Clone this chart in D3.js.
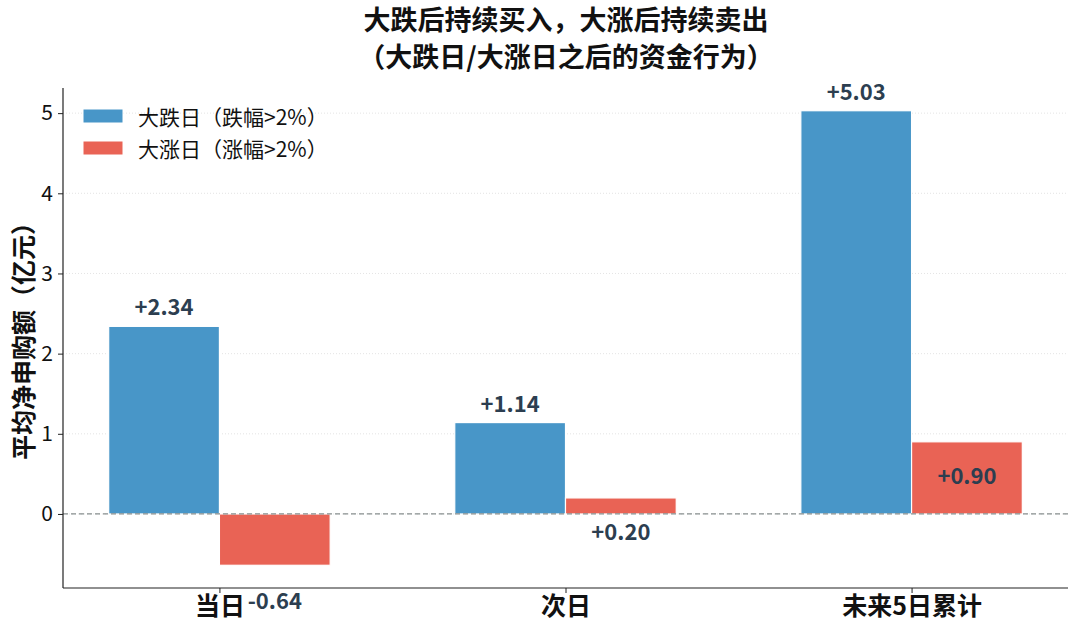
<!DOCTYPE html>
<html><head><meta charset="utf-8">
<script src="https://cdn.jsdelivr.net/npm/d3@7"></script>
<style>
body{margin:0;background:#fff;}
text{font-family:"Noto Sans CJK SC","Noto Sans",sans-serif;}
</style></head>
<body><svg id="chart" width="1080" height="635"></svg>
<script>
const categories = ["当日", "次日", "未来5日累计"];
const dropValues = [2.34, 1.14, 5.03];
const riseValues = [-0.64, 0.20, 0.90];
const seriesNames = ["大跌日（跌幅>2%）", "大涨日（涨幅>2%）"];
const yTicks = [0, 1, 2, 3, 4, 5];
const titleLines = ["大跌后持续买入，大涨后持续卖出", "（大跌日/大涨日之后的资金行为）"];
const yLabel = "平均净申购额（亿元）";

const colors = ["#4896c8", "#e96355"];
const labelColor = "#2c3e50";

const svg = d3.select("#chart");
const m = {left: 63, right: 1068, top: 88, bottom: 588};

const x = d3.scaleLinear().domain([-0.452, 2.452]).range([m.left, m.right]);
const y = d3.scaleLinear().domain([-0.9235, 5.3135]).range([m.bottom, m.top]);
const w = 0.32;

// grid
svg.append("g").selectAll("line").data(yTicks).join("line")
  .attr("x1", m.left).attr("x2", m.right)
  .attr("y1", d => y(d)).attr("y2", d => y(d))
  .attr("stroke", "#dddddd").attr("stroke-width", 0.8).attr("stroke-dasharray", "1,2");

const series = [dropValues, riseValues];
series.forEach((vals, si) => {
  svg.append("g").selectAll("rect").data(vals).join("rect")
    .attr("x", (d, i) => x(si === 0 ? i - w : i))
    .attr("width", x(w) - x(0))
    .attr("y", d => y(Math.max(0, d)))
    .attr("height", d => Math.abs(y(d) - y(0)))
    .attr("fill", colors[si])
    .attr("stroke", "#ffffff").attr("stroke-width", 1.2);
});

// zero line
svg.append("line").attr("x1", m.left).attr("x2", m.right)
  .attr("y1", y(0)).attr("y2", y(0))
  .attr("stroke", "#888f8f").attr("stroke-width", 1.3).attr("stroke-dasharray", "5,3");

// value labels
const fmt = d => (d >= 0 ? "+" : "") + d.toFixed(2);
svg.append("g").selectAll("text").data(dropValues).join("text")
  .attr("x", (d, i) => x(i - w / 2))
  .attr("y", d => y(d) - 21)
  .attr("text-anchor", "middle").attr("dominant-baseline", "central")
  .attr("font-size", 22).attr("font-weight", "bold").attr("fill", labelColor)
  .text(fmt);
svg.append("g").selectAll("text").data(riseValues).join("text")
  .attr("x", (d, i) => x(i + w / 2))
  .attr("y", d => y(d) + (d < 0 ? 34 : 32))
  .attr("text-anchor", "middle").attr("dominant-baseline", "central")
  .attr("font-size", 22).attr("font-weight", "bold").attr("fill", labelColor)
  .text(fmt);

// axes
const yAxis = d3.axisLeft(y).tickValues(yTicks).tickSize(5).tickPadding(5).tickFormat(d3.format("d"));
const gy = svg.append("g").attr("transform", `translate(${m.left},0)`).call(yAxis);
gy.select(".domain").attr("d", `M0,${m.top}V${m.bottom}`).attr("stroke", "#222").attr("stroke-width", 1.2);
gy.selectAll(".tick line").attr("stroke", "#222");
gy.selectAll(".tick text").attr("font-size", 21).attr("fill", "#111")
  .style("font-family", '"Noto Sans CJK SC","Noto Sans",sans-serif');

const xAxis = d3.axisBottom(x).tickValues([0, 1, 2]).tickSize(5).tickPadding(4).tickFormat(i => categories[i]);
const gx = svg.append("g").attr("transform", `translate(0,${m.bottom})`).call(xAxis);
gx.select(".domain").attr("d", `M${m.left},0H${m.right}`).attr("stroke", "#222").attr("stroke-width", 1.2);
gx.selectAll(".tick line").attr("stroke", "#222");
gx.selectAll(".tick text").attr("font-size", 25).attr("font-weight", "bold").attr("fill", "#111")
  .style("font-family", '"Noto Sans CJK SC","Noto Sans",sans-serif');

// y label
svg.append("text")
  .attr("transform", `translate(22,${(m.top + m.bottom) / 2 - 3}) rotate(-90)`)
  .attr("text-anchor", "middle").attr("dominant-baseline", "central")
  .attr("font-size", 25).attr("font-weight", "bold").attr("fill", "#111")
  .text(yLabel);

// title
svg.append("g").selectAll("text").data(titleLines).join("text")
  .attr("x", 566).attr("y", (d, i) => 18 + i * 37)
  .attr("text-anchor", "middle").attr("dominant-baseline", "central")
  .attr("font-size", 27).attr("font-weight", "bold").attr("fill", "#111")
  .text(d => d);

// legend
const lg = svg.append("g").attr("transform", "translate(83,107)");
seriesNames.forEach((n, i) => {
  lg.append("rect").attr("x", 0).attr("y", i * 32 + 2).attr("width", 40).attr("height", 14)
    .attr("fill", colors[i]).attr("stroke", "#fff");
  lg.append("text").attr("x", 55).attr("y", i * 32 + 9)
    .attr("dominant-baseline", "central").attr("font-size", 21).attr("fill", "#111").text(n);
});
</script></body></html>
